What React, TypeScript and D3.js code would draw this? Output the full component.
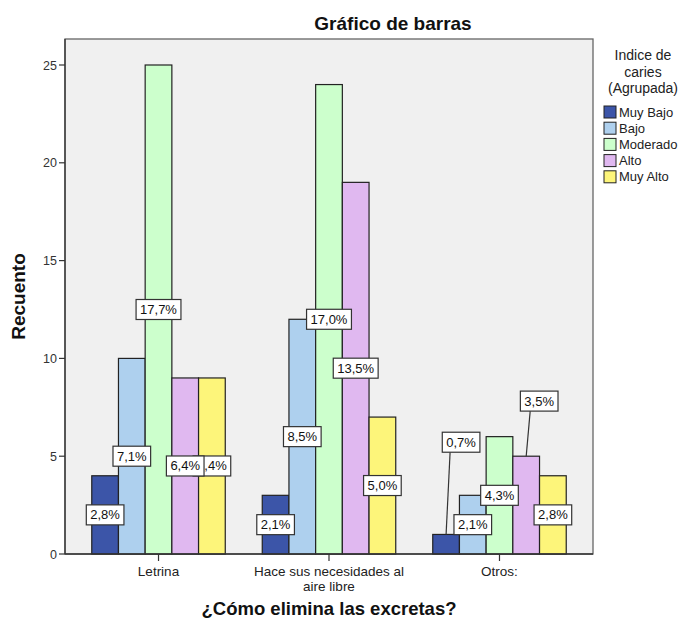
import React, { useEffect, useRef } from "react";
import * as d3 from "d3";

const categories = ["Letrina", "Hace sus necesidades al aire libre", "Otros:"];
const categoryLines = [["Letrina"], ["Hace sus necesidades al", "aire libre"], ["Otros:"]];
const seriesNames = ["Muy Bajo", "Bajo", "Moderado", "Alto", "Muy Alto"];
const seriesColors = ["#3C55A8", "#AED0EE", "#CCFFCC", "#E0B8F0", "#FDF57A"];
// counts per category, per series
const muyBajo = [4, 3, 1];
const bajo = [10, 12, 3];
const moderado = [25, 24, 6];
const alto = [9, 19, 5];
const muyAlto = [9, 7, 4];
const seriesValues = [muyBajo, bajo, moderado, alto, muyAlto];
const yTicks = [0, 5, 10, 15, 20, 25];
const totalCount = 141;

const title = "Gráfico de barras";
const xTitle = "¿Cómo elimina las excretas?";
const yTitle = "Recuento";
const legendTitle = ["Indice de", "caries", "(Agrupada)"];

// label displacement (pixels) for labels pulled away with a leader line
const labelShift: Record<string, { dx: number; dy: number }> = {
  "2|0": { dx: 15, dy: -102 },
  "2|3": { dx: 13, dy: -104 },
};

const W = 683;
const H = 621;
const FONT = "'Liberation Sans', Arial, sans-serif";

export default function App() {
  const ref = useRef<SVGSVGElement | null>(null);

  useEffect(() => {
    const svg = d3.select(ref.current);
    svg.selectAll("*").remove();

    const left = 65, right = 593, top = 39, bottom = 554;
    const yMax = 25 * (bottom - top) / (bottom - 65);
    const y = d3.scaleLinear().domain([0, yMax]).range([bottom, top]);
    const x0 = d3.scaleBand<string>().domain(categories).range([left, right]).paddingInner(0.217).paddingOuter(0.157);
    const x1 = d3.scaleBand<string>().domain(seriesNames).range([0, x0.bandwidth()]);

    // plot background
    svg.append("rect").attr("x", left).attr("y", top).attr("width", right - left).attr("height", bottom - top)
      .attr("fill", "#F0F0F0").attr("stroke", "#666").attr("stroke-width", 1.3);

    // title
    svg.append("text").attr("x", 393).attr("y", 30).attr("text-anchor", "middle")
      .attr("font-family", FONT).attr("font-weight", "bold").attr("font-size", 19).attr("fill", "#111").text(title);

    // bars
    categories.forEach((c, ci) => {
      seriesNames.forEach((s, si) => {
        const v = seriesValues[si][ci];
        svg.append("rect")
          .attr("x", x0(c)! + x1(s)!)
          .attr("y", y(v))
          .attr("width", x1.bandwidth())
          .attr("height", y(0) - y(v))
          .attr("fill", seriesColors[si])
          .attr("stroke", "#222")
          .attr("stroke-width", 1.2);
      });
    });

    // axes lines
    svg.append("line").attr("x1", left).attr("x2", left).attr("y1", top).attr("y2", bottom).attr("stroke", "#333").attr("stroke-width", 1.3);
    svg.append("line").attr("x1", left).attr("x2", right).attr("y1", bottom).attr("y2", bottom).attr("stroke", "#333").attr("stroke-width", 1.3);

    // y ticks
    yTicks.forEach((t) => {
      svg.append("line").attr("x1", left - 6).attr("x2", left).attr("y1", y(t)).attr("y2", y(t)).attr("stroke", "#333").attr("stroke-width", 1.2);
      svg.append("text").attr("x", left - 8).attr("y", y(t) + 4.5).attr("text-anchor", "end")
        .attr("font-family", FONT).attr("font-size", 12.5).attr("fill", "#333").text(String(t));
    });

    // x ticks & labels
    categories.forEach((c, ci) => {
      const cx = x0(c)! + x0.bandwidth() / 2;
      svg.append("line").attr("x1", cx).attr("x2", cx).attr("y1", bottom).attr("y2", bottom + 7).attr("stroke", "#333").attr("stroke-width", 1.2);
      categoryLines[ci].forEach((ln, li) => {
        svg.append("text").attr("x", cx).attr("y", 576 + li * 15).attr("text-anchor", "middle")
          .attr("font-family", FONT).attr("font-size", 13.5).attr("fill", "#222").text(ln);
      });
    });

    // axis titles
    svg.append("text").attr("x", (left + right) / 2).attr("y", 615).attr("text-anchor", "middle")
      .attr("font-family", FONT).attr("font-weight", "bold").attr("font-size", 18.5).attr("fill", "#111").text(xTitle);
    svg.append("text").attr("transform", `translate(25,${(top + bottom) / 2}) rotate(-90)`).attr("text-anchor", "middle")
      .attr("font-family", FONT).attr("font-weight", "bold").attr("font-size", 19).attr("fill", "#111").text(yTitle);

    // percentage labels (reverse series order so earlier series sit on top)
    const fmt = (v: number) => (v / totalCount * 100).toFixed(1).replace(".", ",") + "%";
    categories.forEach((c, ci) => {
      for (let si = seriesNames.length - 1; si >= 0; si--) {
        const s = seriesNames[si];
        const v = seriesValues[si][ci];
        const bx = x0(c)! + x1(s)! + x1.bandwidth() / 2;
        const shift = labelShift[`${ci}|${si}`];
        let lx = bx, ly = y(v / 2);
        if (shift) { lx += shift.dx; ly += shift.dy; }
        const g = svg.append("g");
        const txt = g.append("text").attr("x", lx).attr("y", ly + 4.5).attr("text-anchor", "middle")
          .attr("font-family", FONT).attr("font-size", 13).attr("fill", "#111").text(fmt(v));
        const tw = (txt.node() as SVGTextElement).getComputedTextLength();
        const bw = tw + 8, bh = 20;
        if (shift) {
          svg.insert("line", () => g.node() as any).attr("x1", bx).attr("y1", y(v)).attr("x2", bx + 4).attr("y2", ly + bh / 2)
            .attr("stroke", "#333").attr("stroke-width", 1.2);
        }
        g.insert("rect", "text").attr("x", lx - bw / 2).attr("y", ly - bh / 2).attr("width", bw).attr("height", bh)
          .attr("fill", "#fff").attr("stroke", "#333").attr("stroke-width", 1.2);
      }
    });

    // legend
    legendTitle.forEach((t, i) => {
      svg.append("text").attr("x", 643).attr("y", 60 + i * 16.5).attr("text-anchor", "middle")
        .attr("font-family", FONT).attr("font-size", 14).attr("fill", "#222").text(t);
    });
    seriesNames.forEach((s, i) => {
      const cy = 112 + i * 16.2;
      svg.append("rect").attr("x", 604).attr("y", cy - 6).attr("width", 12).attr("height", 12)
        .attr("fill", seriesColors[i]).attr("stroke", "#222").attr("stroke-width", 1);
      svg.append("text").attr("x", 619).attr("y", cy + 4.5)
        .attr("font-family", FONT).attr("font-size", 13).attr("fill", "#222").text(s);
    });
  }, []);

  return (
    <svg ref={ref} width={W} height={H} style={{ position: "absolute", left: 0, top: 0, background: "#fff" }} />
  );
}
